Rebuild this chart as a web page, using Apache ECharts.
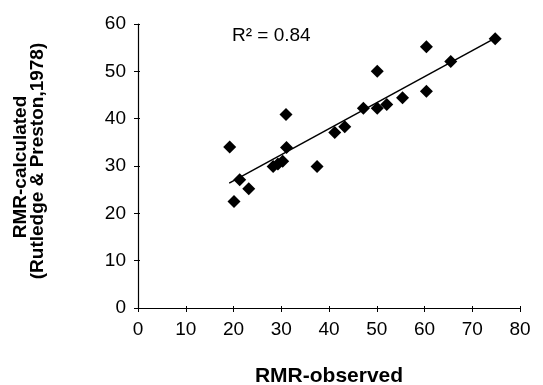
<!DOCTYPE html>
<html>
<head>
<meta charset="utf-8">
<script src="https://cdn.jsdelivr.net/npm/echarts@6/dist/echarts.min.js"></script>
<style>
  html, body { margin: 0; padding: 0; background: #fff; }
  #main { width: 543px; height: 385px; }
</style>
</head>
<body>
<div id="main"></div>
<script>
// RMR observed vs calculated (Rutledge & Preston, 1978)
const observed = [19.2, 20.1, 21.3, 23.2, 28.3, 29.3, 30.3, 31.1, 31.0, 37.5, 41.2, 43.3, 47.2, 50.1, 50.1, 52.1, 55.4, 60.4, 60.4, 65.5, 74.8];
const calculated = [34.0, 22.5, 27.1, 25.2, 29.9, 30.4, 31.0, 33.9, 40.9, 29.9, 37.1, 38.3, 42.2, 50.0, 42.2, 43.0, 44.4, 55.2, 45.8, 52.1, 56.9];
const trendX = [19.1, 74.8];
const trendY = [26.4, 57.0];
const xTicks = [0, 10, 20, 30, 40, 50, 60, 70, 80];
const yTicks = [0, 10, 20, 30, 40, 50, 60];

const FONT = '"Liberation Sans", Arial, sans-serif';
const INK = '#000';

const points = observed.map((x, i) => [x, calculated[i]]);
const trend = trendX.map((x, i) => [x, trendY[i]]);

const myChart = echarts.init(document.getElementById('main'), null, { renderer: 'canvas' });

const baseX = {
  type: 'value',
  min: xTicks[0],
  max: xTicks[xTicks.length - 1],
  interval: 10,
  splitLine: { show: false }
};
const baseY = {
  type: 'value',
  min: yTicks[0],
  max: yTicks[yTicks.length - 1],
  interval: 10,
  splitLine: { show: false }
};

const option = {
  backgroundColor: '#fff',
  animation: false,
  grid: { left: 138, right: 23, top: 24, bottom: 77 },
  xAxis: [
    Object.assign({}, baseX, {
      axisLine: { show: true, lineStyle: { color: INK, width: 1.2 } },
      axisTick: { show: true, length: 4, lineStyle: { color: INK } },
      axisLabel: { margin: 12, color: INK, fontSize: 19, fontFamily: FONT }
    }),
    // inner half of the crossing ticks
    Object.assign({}, baseX, {
      position: 'bottom',
      axisLine: { show: false },
      axisTick: { show: true, inside: true, length: 2, lineStyle: { color: INK } },
      axisLabel: { show: false }
    })
  ],
  yAxis: [
    Object.assign({}, baseY, {
      axisLine: { show: true, lineStyle: { color: INK, width: 1.2 } },
      axisTick: { show: true, length: 4, lineStyle: { color: INK } },
      axisLabel: { margin: 12, color: INK, fontSize: 19, fontFamily: FONT }
    }),
    Object.assign({}, baseY, {
      position: 'left',
      axisLine: { show: false },
      axisTick: { show: true, inside: true, length: 2, lineStyle: { color: INK } },
      axisLabel: { show: false }
    })
  ],
  graphic: [
    {
      type: 'text',
      left: 232,
      top: 26,
      style: { text: 'R\u00B2 = 0.84', fill: INK, font: '19px ' + FONT }
    },
    {
      type: 'text',
      x: 329,
      y: 376,
      style: { text: 'RMR-observed', fill: INK, font: 'bold 21px ' + FONT, align: 'center', verticalAlign: 'middle' }
    },
    {
      type: 'text',
      x: 21,
      y: 167,
      rotation: Math.PI / 2,
      style: { text: 'RMR-calculated', fill: INK, font: 'bold 19px ' + FONT, align: 'center', verticalAlign: 'middle' }
    },
    {
      type: 'text',
      x: 38,
      y: 161,
      rotation: Math.PI / 2,
      style: { text: '(Rutledge & Preston,1978)', fill: INK, font: 'bold 19px ' + FONT, align: 'center', verticalAlign: 'middle' }
    }
  ],
  series: [
    {
      name: 'trend',
      type: 'line',
      data: trend,
      symbol: 'none',
      lineStyle: { color: INK, width: 1.5 },
      z: 2
    },
    {
      name: 'RMR',
      type: 'scatter',
      data: points,
      symbol: 'diamond',
      symbolSize: [13, 13],
      itemStyle: { color: INK, opacity: 1 },
      z: 3
    }
  ]
};

myChart.setOption(option);
</script>
</body>
</html>
